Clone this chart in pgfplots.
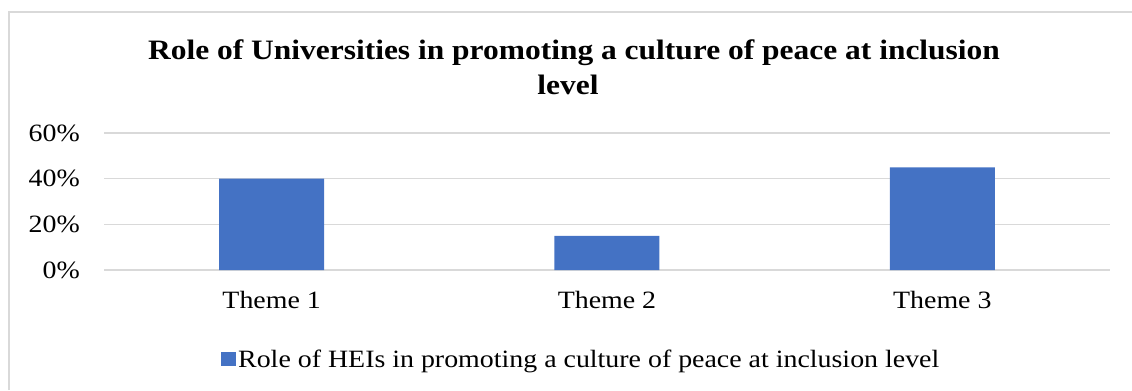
\documentclass[border=0pt]{standalone}
\usepackage{pgfplots}
\pgfplotsset{compat=1.18}
\usepackage{fontspec}
\setmainfont{Liberation Serif}[FakeStretch=1.12]
\definecolor{barblue}{HTML}{4472C4}
\definecolor{gridgray}{HTML}{D9D9D9}
\begin{document}
\begin{tikzpicture}[x=1bp,y=1bp]
\path[use as bounding box] (0,0) rectangle (1132,390);
\draw[gridgray, line width=1.5bp] (9,0) -- (9,378) -- (1132,378);
\node[anchor=base, font=\bfseries\fontsize{28.2}{34}\selectfont, inner sep=0pt] at (574,331) {Role of Universities in promoting a culture of peace at inclusion};
\node[anchor=base, font=\bfseries\fontsize{28.2}{34}\selectfont, inner sep=0pt] at (568,296) {level};
\begin{axis}[
  at={(104bp,120bp)}, anchor=south west,
  scale only axis, width=1006bp, height=137bp,
  xmin=-0.5, xmax=2.5, ymin=0, ymax=0.6,
  ytick={0,0.2,0.4,0.6}, yticklabels={0\%,20\%,40\%,60\%},
  xtick={0,1,2}, xticklabels={Theme 1,Theme 2,Theme 3},
  axis line style={draw=none},
  major tick length=0pt,
  ymajorgrids, grid style={gridgray, line width=1.5bp},
  tick label style={font=\fontsize{25}{30}\selectfont},
  yticklabel style={anchor=east, inner sep=0pt, xshift=-24bp},
  xticklabel style={anchor=north, inner sep=0pt, yshift=-21bp},
  legend style={at={(0.1163,-0.653)}, anchor=west, draw=none, inner sep=0pt, fill=none,
    font=\fontsize{25}{28}\selectfont, cells={anchor=west}},
  legend image code/.code={\fill[barblue] (0bp,-7bp) rectangle (15bp,7bp);},
  legend cell align=left,
]
\addplot[ybar, bar width=105bp, fill=barblue, draw=none, bar shift=0pt] coordinates {(0,0.40) (1,0.15) (2,0.45)};
\addlegendentry{Role of HEIs in promoting a culture of peace at inclusion level}
\end{axis}
\end{tikzpicture}
\end{document}
